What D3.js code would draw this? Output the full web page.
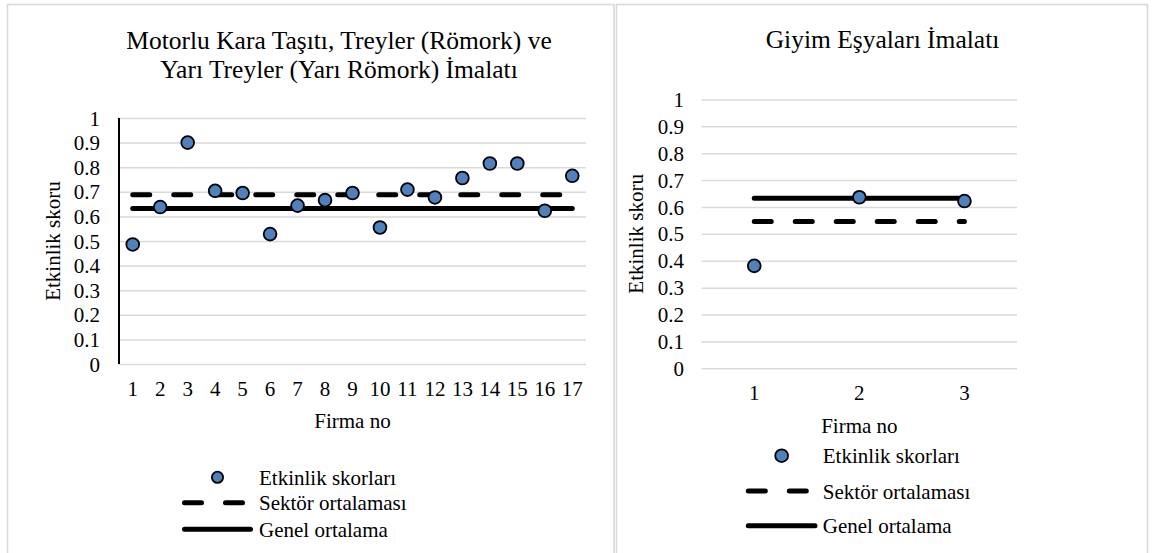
<!DOCTYPE html>
<html>
<head>
<meta charset="utf-8">
<script src="https://cdn.jsdelivr.net/npm/d3@7"></script>
<style>
  html, body { margin: 0; padding: 0; background: #fff; }
  svg { display: block; }
  svg text { font-family: "Liberation Serif", "Times New Roman", serif !important; }
</style>
</head>
<body>
<svg id="chart" width="1160" height="553"></svg>
<script>
// ---------- data ----------
const firmsA = ["1","2","3","4","5","6","7","8","9","10","11","12","13","14","15","16","17"];
const scoresA = [0.486, 0.638, 0.900, 0.704, 0.695, 0.528, 0.644, 0.666, 0.695, 0.555, 0.709, 0.677, 0.756, 0.815, 0.815, 0.623, 0.765];
const sectorMeanA = 0.688;
const firmsB = ["1","2","3"];
const scoresB = [0.381, 0.636, 0.622];
const sectorMeanB = 0.546;
const overallMean = 0.632;
const yTicks = [0, 0.1, 0.2, 0.3, 0.4, 0.5, 0.6, 0.7, 0.8, 0.9, 1];
const titleA = ["Motorlu Kara Taşıtı, Treyler (Römork) ve", "Yarı Treyler (Yarı Römork) İmalatı"];
const titleB = ["Giyim Eşyaları İmalatı"];
const legendLabels = ["Etkinlik skorları", "Sektör ortalaması", "Genel ortalama"];
const xTitle = "Firma no";
const yTitle = "Etkinlik skoru";

const svg = d3.select("#chart");
const GRID = "#d9d9d9";
const FILL = "#4f81bd";
const LW = 5;
const DASH = "17,24";

// panel borders
svg.append("rect").attr("x", 7.5).attr("y", 4.5).attr("width", 606.5).attr("height", 580)
  .attr("fill", "none").attr("stroke", GRID).attr("stroke-width", 1.6);
svg.append("rect").attr("x", 616.5).attr("y", 4.5).attr("width", 531).attr("height", 580)
  .attr("fill", "none").attr("stroke", GRID).attr("stroke-width", 1.6);

function drawChart(cfg) {
  const g = svg.append("g");
  const x = d3.scaleBand().domain(cfg.firms).range([cfg.x0, cfg.x1]).padding(0);
  const y = d3.scaleLinear().domain([0, 1]).range([cfg.yB, cfg.yT]);
  const cx = d => x(d) + x.bandwidth() / 2;

  // gridlines + y tick labels
  const yAx = g.append("g").attr("transform", `translate(${cfg.x0},0)`)
    .call(d3.axisLeft(y).tickValues(yTicks).tickSize(-(cfg.x1 - cfg.x0)).tickPadding(cfg.labelPad)
      .tickFormat(d => String(+d.toFixed(1))));
  yAx.select(".domain").remove();
  yAx.selectAll(".tick line").attr("stroke", GRID).attr("stroke-width", 1.5);
  yAx.selectAll(".tick text").attr("font-size", 21).attr("fill", "#000").attr("dy", "0.34em");

  if (cfg.axisLine) {
    g.append("line").attr("x1", cfg.x0).attr("x2", cfg.x0).attr("y1", y(1)).attr("y2", y(0))
      .attr("stroke", "#000").attr("stroke-width", 2);
  }

  // x tick labels
  const xAx = g.append("g").attr("transform", `translate(0,${cfg.yB})`)
    .call(d3.axisBottom(x).tickSize(0).tickPadding(0));
  xAx.select(".domain").remove();
  xAx.selectAll(".tick text").attr("font-size", 21).attr("fill", "#000")
    .attr("dy", null).attr("y", 31.7);

  // lines
  const first = cfg.firms[0], last = cfg.firms[cfg.firms.length - 1];
  g.append("line").attr("x1", cx(first)).attr("x2", cx(last))
    .attr("y1", y(overallMean)).attr("y2", y(overallMean))
    .attr("stroke", "#000").attr("stroke-width", LW).attr("stroke-linecap", "round");
  g.append("line").attr("x1", cx(first)).attr("x2", cx(last))
    .attr("y1", y(cfg.sector)).attr("y2", y(cfg.sector))
    .attr("stroke", "#000").attr("stroke-width", LW).attr("stroke-linecap", "round")
    .attr("stroke-dasharray", DASH);

  // points
  g.selectAll("circle.pt").data(cfg.scores).join("circle").attr("class", "pt")
    .attr("cx", (d, i) => cx(cfg.firms[i])).attr("cy", d => y(d)).attr("r", 6.4)
    .attr("fill", FILL).attr("stroke", "#000").attr("stroke-width", 1.8);

  // titles
  const t = g.append("text").attr("text-anchor", "middle").attr("font-size", 25.5).attr("fill", "#000");
  cfg.title.forEach((line, i) => {
    t.append("tspan").attr("x", cfg.titleX).attr("y", cfg.titleY + i * 29).text(line);
  });
  g.append("text").attr("text-anchor", "middle").attr("font-size", 21).attr("fill", "#000")
    .attr("x", (cfg.x0 + cfg.x1) / 2).attr("y", cfg.yB + 64.2).text(xTitle);
  g.append("text").attr("text-anchor", "middle").attr("font-size", 21).attr("fill", "#000")
    .attr("transform", `translate(${cfg.yTitleX},${(cfg.yT + cfg.yB) / 2}) rotate(-90)`)
    .attr("dy", "0.32em").text(yTitle);

  // legend
  const L = cfg.legend;
  const symMid = (L.sx0 + L.sx1) / 2;
  g.append("circle").attr("cx", symMid).attr("cy", L.y[0]).attr("r", L.r)
    .attr("fill", FILL).attr("stroke", "#000").attr("stroke-width", 1.8);
  g.append("line").attr("x1", L.sx0 + LW / 2).attr("x2", L.sx1 - LW / 2).attr("y1", L.y[1]).attr("y2", L.y[1])
    .attr("stroke", "#000").attr("stroke-width", LW).attr("stroke-linecap", "round").attr("stroke-dasharray", DASH);
  g.append("line").attr("x1", L.sx0 + LW / 2).attr("x2", L.sx1 - LW / 2).attr("y1", L.y[2]).attr("y2", L.y[2])
    .attr("stroke", "#000").attr("stroke-width", LW).attr("stroke-linecap", "round");
  legendLabels.forEach((lab, i) => {
    g.append("text").attr("x", L.tx).attr("y", L.y[i]).attr("dy", "0.36em")
      .attr("font-size", 21).attr("fill", "#000").text(lab);
  });
}

drawChart({
  firms: firmsA, scores: scoresA, sector: sectorMeanA,
  x0: 119, x1: 586, yT: 118, yB: 364, axisLine: true, labelPad: 19,
  title: titleA, titleX: 339, titleY: 49.3, yTitleX: 53.3,
  legend: { sx0: 182, sx1: 253, tx: 259, y: [477.3, 502.7, 529.3], r: 5.6 }
});

drawChart({
  firms: firmsB, scores: scoresB, sector: sectorMeanB,
  x0: 701.7, x1: 1017, yT: 99.4, yB: 368.3, axisLine: false, labelPad: 17.7,
  title: titleB, titleX: 882.5, titleY: 48.3, yTitleX: 636.7,
  legend: { sx0: 745.8, sx1: 817.5, tx: 822.8, y: [455.7, 491, 525.7], r: 6.4 }
});
</script>
</body>
</html>
